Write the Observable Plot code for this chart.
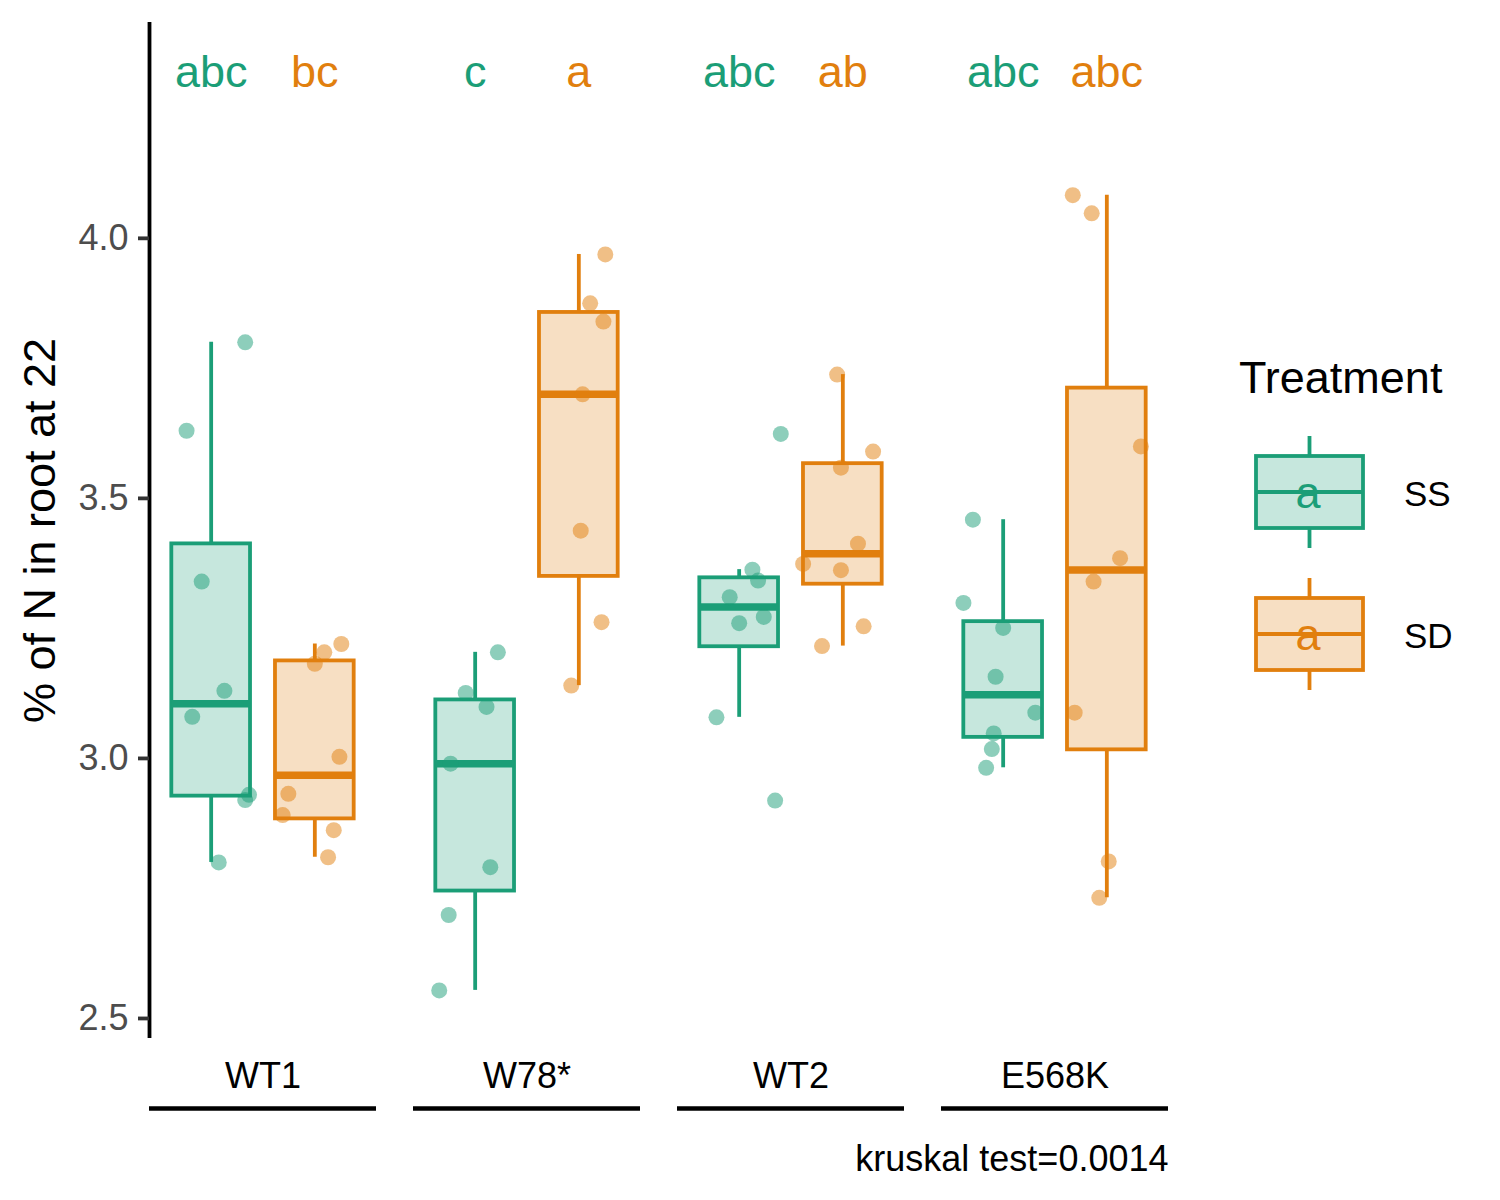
<!DOCTYPE html>
<html>
<head>
<meta charset="utf-8">
<script src="https://cdn.jsdelivr.net/npm/d3@7"></script>
<script src="https://cdn.jsdelivr.net/npm/@observablehq/plot@0.6"></script>
<style>
  html, body { margin: 0; padding: 0; background: #fff; }
  #wrap { position: relative; width: 1500px; height: 1200px; font-family: "Liberation Sans", Arial, Helvetica, sans-serif; }
  #wrap svg { position: absolute; left: 0; top: 0; }
</style>
</head>
<body>
<div id="wrap"></div>
<script>
// ---------------- data ----------------
const groups = ["WT1", "W78*", "WT2", "E568K"];
const treatments = ["SS", "SD"];
const colors = ["#1B9E77", "#E17F0E"];

const lettersSS = ["abc", "c", "abc", "abc"];
const lettersSD = ["bc", "a", "ab", "abc"];

const yTicks = [2.5, 3.0, 3.5, 4.0];
const yTitle = "% of N in root at 22";
const caption = "kruskal test=0.0014";
const legendTitle = "Treatment";

const WT1_SS   = [3.80, 3.63, 3.34, 3.13, 3.08, 2.93, 2.92, 2.80];
const WT1_SD   = [3.22, 3.204, 3.182, 3.003, 2.932, 2.891, 2.862, 2.810];
const W78_SS   = [3.204, 3.126, 3.099, 2.990, 2.791, 2.699, 2.554];
const W78_SD   = [3.969, 3.875, 3.840, 3.700, 3.438, 3.262, 3.140];
const WT2_SS   = [3.624, 3.363, 3.342, 3.310, 3.272, 3.260, 3.079, 2.919];
const WT2_SD   = [3.738, 3.590, 3.559, 3.413, 3.374, 3.362, 3.254, 3.216];
const E568K_SS = [3.459, 3.299, 3.251, 3.157, 3.088, 3.048, 3.018, 2.982];
const E568K_SD = [4.083, 4.048, 3.600, 3.385, 3.340, 3.088, 2.802, 2.732];

// horizontal jitter of each point as drawn in the picture (x units)
const WT1_SS_jit   = [0.18, -0.13, -0.05, 0.07, -0.10, 0.20, 0.18, 0.04];
const WT1_SD_jit   = [0.14, 0.05, 0.00, 0.13, -0.14, -0.17, 0.10, 0.07];
const W78_SS_jit   = [0.12, -0.05, 0.06, -0.13, 0.08, -0.14, -0.19];
const W78_SD_jit   = [0.14, 0.06, 0.13, 0.02, 0.01, 0.12, -0.04];
const WT2_SS_jit   = [0.22, 0.07, 0.10, -0.05, 0.13, 0.00, -0.12, 0.19];
const WT2_SD_jit   = [-0.03, 0.16, -0.01, 0.08, -0.21, -0.01, 0.11, -0.11];
const E568K_SS_jit = [-0.16, -0.21, 0.00, -0.04, 0.17, -0.05, -0.06, -0.09];
const E568K_SD_jit = [-0.18, -0.08, 0.18, 0.07, -0.07, -0.17, 0.01, -0.04];

// ---------------- build tables ----------------
const series = [
  ["WT1", "SS", WT1_SS, WT1_SS_jit], ["WT1", "SD", WT1_SD, WT1_SD_jit],
  ["W78*", "SS", W78_SS, W78_SS_jit], ["W78*", "SD", W78_SD, W78_SD_jit],
  ["WT2", "SS", WT2_SS, WT2_SS_jit], ["WT2", "SD", WT2_SD, WT2_SD_jit],
  ["E568K", "SS", E568K_SS, E568K_SS_jit], ["E568K", "SD", E568K_SD, E568K_SD_jit]
];

const xDomain = [-0.6, 0.6];
const yDomain = [2.4615, 4.415];
const dodge = {SS: -0.274, SD: 0.274};
const hw = 0.208;

const points = [];
const stats = [];
for (const [g, t, vals, jit] of series) {
  vals.forEach((v, i) => points.push({group: g, trt: t, value: v, jit: jit[i]}));
  const s = vals.slice().sort(d3.ascending);
  const q1 = d3.quantileSorted(s, 0.25), med = d3.quantileSorted(s, 0.5), q3 = d3.quantileSorted(s, 0.75);
  const iqr = q3 - q1;
  const lo = d3.min(s.filter(v => v >= q1 - 1.5 * iqr));
  const hi = d3.max(s.filter(v => v <= q3 + 1.5 * iqr));
  stats.push({group: g, trt: t, q1, med, q3, lo, hi});
}
const letters = [];
groups.forEach((g, i) => {
  letters.push({group: g, trt: "SS", text: lettersSS[i]});
  letters.push({group: g, trt: "SD", text: lettersSD[i]});
});

const font = '"Liberation Sans", Arial, Helvetica, sans-serif';
const SW = 3.8;

const chart = Plot.plot({
  width: 1500,
  height: 1200,
  marginLeft: 148,
  marginRight: 331,
  marginTop: 22,
  marginBottom: 162,
  fx: {domain: groups, paddingInner: 0.14, paddingOuter: 0, axis: null, label: null},
  x: {domain: xDomain, axis: null},
  y: {domain: yDomain, axis: null},
  color: {domain: treatments, range: colors},
  style: {fontFamily: font, background: "transparent", overflow: "visible", color: "black"},
  marks: [
    // y axis line (leftmost panel only)
    Plot.ruleX([xDomain[0]], {fx: () => groups[0], y1: yDomain[0], y2: yDomain[1], stroke: "black", strokeWidth: 3.8}),
    Plot.axisY({ticks: yTicks, tickFormat: d3.format(".1f"), tickSize: 11, tickPadding: 10,
      fontSize: 36, fill: "#4D4D4D", stroke: "#333333", strokeWidth: 3.8, label: null}),
    Plot.text([yTitle], {fx: () => groups[0], text: d => d, frameAnchor: "left", dx: -95, rotate: -90,
      lineAnchor: "bottom", textAnchor: "middle", fontSize: 45, fill: "black"}),
    // whiskers
    Plot.ruleX(stats, {fx: "group", x: d => dodge[d.trt], y1: "q3", y2: "hi", stroke: "trt", strokeWidth: SW}),
    Plot.ruleX(stats, {fx: "group", x: d => dodge[d.trt], y1: "lo", y2: "q1", stroke: "trt", strokeWidth: SW}),
    // boxes
    Plot.rect(stats, {fx: "group", x1: d => dodge[d.trt] - hw, x2: d => dodge[d.trt] + hw, y1: "q1", y2: "q3",
      fill: "trt", fillOpacity: 0.25, stroke: "trt", strokeWidth: SW}),
    Plot.ruleY(stats, {fx: "group", x1: d => dodge[d.trt] - hw, x2: d => dodge[d.trt] + hw, y: "med",
      stroke: "trt", strokeWidth: 7.5}),
    // jittered points
    Plot.dot(points, {fx: "group", x: d => dodge[d.trt] + d.jit, y: "value", fill: "trt", fillOpacity: 0.5, r: 8, stroke: null}),
    // significance letters
    Plot.text(letters, {fx: "group", x: d => dodge[d.trt], text: "text", fill: "trt", frameAnchor: "top", dy: 64,
      lineAnchor: "bottom", fontSize: 45}),
    // facet labels & underline
    Plot.text(groups, {fx: d => d, text: d => d, frameAnchor: "bottom", dy: 49, lineAnchor: "bottom", fontSize: 36, fill: "black"}),
    Plot.ruleY(groups, {fx: d => d, y: yDomain[0], dy: 70, stroke: "black", strokeWidth: 4.5}),
    // caption
    Plot.text([caption], {fx: () => groups[3], text: d => d, frameAnchor: "bottom-right", dy: 132,
      textAnchor: "end", lineAnchor: "bottom", fontSize: 36, fill: "black"})
  ]
});

const wrap = document.getElementById("wrap");
wrap.appendChild(chart);

// ---------------- legend ----------------
const leg = d3.select(wrap).append("svg").attr("width", 1500).attr("height", 1200)
  .style("font-family", font);
leg.append("text").attr("x", 1239).attr("y", 393).attr("font-size", 45).attr("fill", "black").text(legendTitle);
const keyCenters = [492, 634];
treatments.forEach((t, i) => {
  const cy = keyCenters[i], c = colors[i];
  const g = leg.append("g");
  g.append("line").attr("x1", 1309.5).attr("x2", 1309.5).attr("y1", cy - 56).attr("y2", cy + 56)
    .attr("stroke", c).attr("stroke-width", SW);
  g.append("rect").attr("x", 1256).attr("y", cy - 36).attr("width", 107).attr("height", 72)
    .attr("fill", "white");
  g.append("rect").attr("x", 1256).attr("y", cy - 36).attr("width", 107).attr("height", 72)
    .attr("fill", c).attr("fill-opacity", 0.25).attr("stroke", c).attr("stroke-width", SW);
  g.append("line").attr("x1", 1256).attr("x2", 1363).attr("y1", cy).attr("y2", cy)
    .attr("stroke", c).attr("stroke-width", 3.8);
  g.append("text").attr("x", 1308).attr("y", cy + 16).attr("text-anchor", "middle")
    .attr("font-size", 45).attr("fill", c).text("a");
  g.append("text").attr("x", 1404).attr("y", cy + 14).attr("font-size", 35).attr("fill", "black").text(t);
});
</script>
</body>
</html>
